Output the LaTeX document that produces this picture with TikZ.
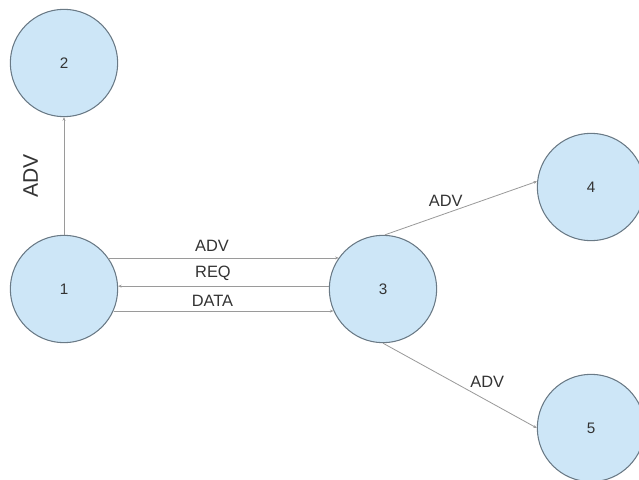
\documentclass[tikz,border=0pt]{standalone}
\usepackage{fontspec}
\setmainfont{Liberation Sans}
\usetikzlibrary{arrows.meta}

\definecolor{nodefill}{HTML}{CDE6F7}
\definecolor{nodeline}{HTML}{6A7A86}
\definecolor{edgeline}{HTML}{9A9A9A}
\definecolor{labeltext}{HTML}{333333}

\begin{document}
\begin{tikzpicture}[x=0.03cm,y=-0.03cm,
    station/.style={circle,draw=nodeline,fill=nodefill,line width=0.9pt,
        minimum size=3.22cm,inner sep=0pt,font=\fontsize{13}{15}\selectfont,text=labeltext},
    link/.style={draw=edgeline,line width=0.7pt,-{Stealth[length=3pt,width=2.5pt]}},
    msg/.style={font=\fontsize{14}{16}\selectfont,text=labeltext,inner sep=1.5pt}]
    \useasboundingbox (0,0) rectangle (639,480);

    % the stations
    \node[station] (n2) at (64,63) {2};
    \node[station] (n1) at (64,289) {1};
    \node[station] (n3) at (383,289) {3};
    \node[station] (n4) at (591,187) {4};
    \node[station] (n5) at (591,428) {5};

    % 1 to 2
    \draw[link] (n1.90) -- (n2.270)
        node[midway,rotate=90,anchor=south,inner sep=22pt,
             font=\fontsize{18}{20}\selectfont,text=labeltext] {ADV};

    % 1 and 3, three messages
    \draw[link] (n1.35) -- (n3.145) node[msg,pos=0.45,above=4pt] {ADV};
    \draw[link] (n3.177) -- (n1.3) node[msg,pos=0.55,above=3pt] {REQ};
    \draw[link] (n1.-24) -- (n3.204) node[msg,pos=0.45,above=2pt] {DATA};

    % 3 to 4 and 5
    \draw[link] (n3.88) -- (n4.174) node[msg,pos=0.4,above=4pt] {ADV};
    \draw[link] (n3.270) -- (n5.180) node[msg,pos=0.6,anchor=south west,xshift=-6pt,yshift=4pt] {ADV};
\end{tikzpicture}
\end{document}
